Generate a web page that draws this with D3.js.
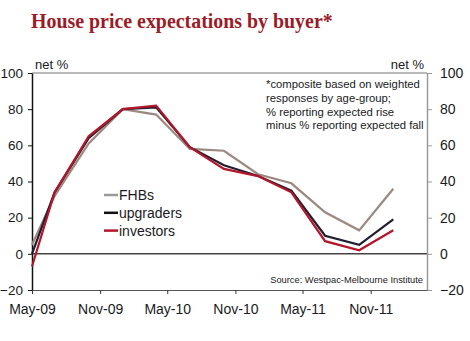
<!DOCTYPE html>
<html>
<head>
<meta charset="utf-8">
<script src="https://cdn.jsdelivr.net/npm/d3@7"></script>
<style>
  body { margin: 0; background: #fff; }
  svg { display: block; }
  text { font-family: "Liberation Sans", Arial, sans-serif; fill: #1a1a22; }
</style>
</head>
<body>
<svg id="chart" width="470" height="341"></svg>
<script>
// Survey dates (month of each reading)
const dates = ['2009-05', '2009-07', '2009-10', '2010-01', '2010-04', '2010-07',
               '2010-10', '2011-01', '2011-04', '2011-07', '2011-10', '2012-01'];

// Net % expecting a rise, by buyer type
const fhbs      = [5, 32, 61, 80, 77, 58, 57, 44, 39, 23, 13, 36];
const upgraders = [0, 34, 64, 80, 81, 59, 49, 43, 35, 10, 5, 19];
const investors = [-7, 34, 65, 80, 82, 59, 47, 43, 34, 7, 2, 13];

const yTicks = [-20, 0, 20, 40, 60, 80, 100];
const xTickLabels = ['May-09', 'Nov-09', 'May-10', 'Nov-10', 'May-11', 'Nov-11'];

const parseMonth = d3.timeParse('%Y-%m');
const fmtMonth = d3.timeFormat('%b-%y');

const svg = d3.select('#chart');

const plotLeft = 32, plotRight = 427, plotTop = 73, plotBottom = 290;

const x = d3.scaleTime()
  .domain([parseMonth('2009-05'), parseMonth('2012-04')])
  .range([plotLeft, plotRight]);

const y = d3.scaleLinear()
  .domain([-20, 100])
  .range([plotBottom, plotTop]);

// title
svg.append('text')
  .attr('x', 31)
  .attr('y', 28)
  .style('font-family', '"Liberation Serif", "Times New Roman", serif')
  .style('font-weight', 'bold')
  .style('font-size', '19.9px')
  .style('fill', '#9b1b26')
  .text('House price expectations by buyer*');

// frame: top border
svg.append('line')
  .attr('x1', plotLeft).attr('x2', plotRight)
  .attr('y1', plotTop).attr('y2', plotTop)
  .attr('stroke', '#777').attr('stroke-width', 1);

// zero line
svg.append('line')
  .attr('x1', plotLeft).attr('x2', plotRight)
  .attr('y1', y(0)).attr('y2', y(0))
  .attr('stroke', '#4a4242').attr('stroke-width', 1.5);

// left axis
const yLeft = svg.append('g')
  .attr('transform', `translate(${plotLeft},0)`)
  .call(d3.axisLeft(y).tickValues(yTicks).tickSize(4).tickSizeOuter(0).tickPadding(5));
yLeft.select('.domain').attr('stroke', '#111').attr('stroke-width', 1.5);
yLeft.selectAll('.tick line').attr('stroke', '#111');
yLeft.selectAll('text').style('font-size', '13.5px').style('fill', '#1a1a22');

// right axis
const yRight = svg.append('g')
  .attr('transform', `translate(${plotRight},0)`)
  .call(d3.axisRight(y).tickValues(yTicks).tickSize(5).tickSizeOuter(0).tickPadding(8));
yRight.select('.domain').attr('stroke', '#9a9a9a').attr('stroke-width', 1.5);
yRight.selectAll('.tick line').attr('stroke', '#9a9a9a');
yRight.selectAll('text').style('font-size', '14px').style('fill', '#1a1a22');

// bottom axis
const xAxis = svg.append('g')
  .attr('transform', `translate(0,${plotBottom})`)
  .call(d3.axisBottom(x)
    .tickValues(xTickLabels.map(d => d3.timeParse('%b-%y')(d)))
    .tickFormat(fmtMonth)
    .tickSize(4).tickSizeOuter(0).tickPadding(10));
xAxis.select('.domain').attr('stroke', '#555').attr('stroke-width', 1.2);
xAxis.selectAll('.tick line').attr('stroke', '#333');
xAxis.selectAll('text').style('font-size', '14px').style('fill', '#1a1a22');

// axis unit labels
svg.append('text').attr('x', 35).attr('y', 69)
  .style('font-size', '13px').text('net %');
svg.append('text').attr('x', 424).attr('y', 69)
  .attr('text-anchor', 'end')
  .style('font-size', '13px').text('net %');

// series
const series = [
  { name: 'FHBs', values: fhbs, color: '#9b8880', legend: '#9a9a9a' },
  { name: 'upgraders', values: upgraders, color: '#1e1e30', legend: '#111' },
  { name: 'investors', values: investors, color: '#b3162a', legend: '#b3162a' }
];

const line = d3.line()
  .x((d, i) => x(parseMonth(dates[i])))
  .y(d => y(d));

series.forEach(s => {
  svg.append('path')
    .datum(s.values)
    .attr('d', line)
    .attr('fill', 'none')
    .attr('stroke', s.color)
    .attr('stroke-width', 2.2)
    .attr('stroke-linejoin', 'miter');
});

// legend
const legend = svg.append('g').attr('transform', 'translate(104,195)');
series.forEach((s, i) => {
  const row = legend.append('g').attr('transform', `translate(0,${i * 17.8})`);
  row.append('line')
    .attr('x1', 0).attr('x2', 14)
    .attr('y1', 0).attr('y2', 0)
    .attr('stroke', s.legend).attr('stroke-width', 2.5);
  row.append('text')
    .attr('x', 15).attr('y', 5)
    .style('font-size', '14px')
    .text(s.name);
});

// footnote
const note = [
  '*composite based on weighted',
  'responses by age-group;',
  '% reporting expected rise',
  'minus % reporting expected fall'
];
svg.append('g').selectAll('text')
  .data(note)
  .join('text')
  .attr('x', 266)
  .attr('y', (d, i) => 88 + i * 13.8)
  .style('font-size', '11.3px')
  .text(d => d);

svg.append('text')
  .attr('x', 423).attr('y', 283)
  .attr('text-anchor', 'end')
  .style('font-size', '9.3px')
  .text('Source: Westpac-Melbourne Institute');
</script>
</body>
</html>
